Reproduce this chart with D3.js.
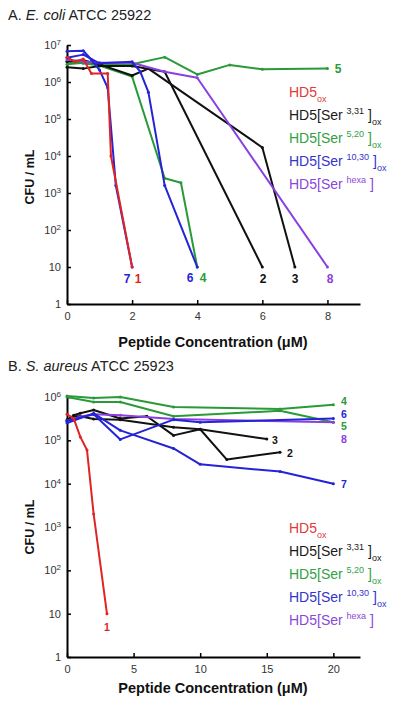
<!DOCTYPE html>
<html><head><meta charset="utf-8">
<script src="https://cdn.jsdelivr.net/npm/d3@7"></script>
<style>
body{margin:0;background:#fff}
svg{display:block}
text{font-family:"Liberation Sans",Arial,Helvetica,sans-serif}
</style>
</head><body>
<svg id="chart" width="400" height="702"></svg>
<script>
// ---------- Panel A: E. coli ATCC 25922 ----------
const xTicksA = [0, 2, 4, 6, 8];
const yTicksA = [1, 10, 1e2, 1e3, 1e4, 1e5, 1e6, 1e7];
const concA1 = [0, 0.25, 0.5, 0.75, 1.25, 1.35, 2];
const cfuA1  = [4.7e6, 3.5e6, 4.2e6, 1.7e6, 1.7e6, 1e4, 10];
const concA2 = [0, 0.5, 1, 2, 3, 6];
const cfuA2  = [2.5e6, 2.3e6, 2.7e6, 2.7e6, 1.9e6, 10];
const concA3 = [0, 0.5, 1, 2, 2.5, 6, 7];
const cfuA3  = [3.6e6, 3.9e6, 3e6, 1.5e6, 2.3e6, 1.7e4, 10];
const concA4 = [0, 0.5, 1, 2, 3, 3.5, 4];
const cfuA4  = [3.6e6, 3.2e6, 2.8e6, 1.4e6, 2.5e3, 1.9e3, 10];
const concA5 = [0, 0.5, 1, 2, 3, 4, 5, 6, 8];
const cfuA5  = [3e6, 3.3e6, 3e6, 3e6, 4.7e6, 1.6e6, 2.9e6, 2.2e6, 2.3e6];
const concA6 = [0, 0.5, 1, 2, 2.25, 2.5, 3, 4];
const cfuA6  = [4.5e6, 5.5e6, 3.2e6, 3.5e6, 1.9e6, 5.3e5, 1.6e3, 10];
const concA7 = [0, 0.5, 0.75, 1, 1.25, 1.5, 2];
const cfuA7  = [6.8e6, 7e6, 4e6, 2.1e6, 7e5, 1.6e3, 10];
const concA8 = [0, 0.5, 1, 2, 3, 4, 8];
const cfuA8  = [4e6, 3.6e6, 3.3e6, 3.3e6, 1.9e6, 1.3e6, 10];

// ---------- Panel B: S. aureus ATCC 25923 ----------
const xTicksB = [0, 5, 10, 15, 20];
const yTicksB = [1, 10, 1e2, 1e3, 1e4, 1e5, 1e6];
const concB1 = [0, 0.5, 1, 1.5, 2, 3];
const cfuB1  = [4e5, 3.2e5, 1.2e5, 6e4, 2e3, 10];
const concB2 = [0, 0.5, 1, 2, 4, 6, 8, 10, 12, 16];
const cfuB2  = [2.8e5, 3.8e5, 4.2e5, 5e5, 3.2e5, 3.6e5, 1.3e5, 1.8e5, 3.6e4, 5.3e4];
const concB3 = [0, 0.5, 1, 2, 4, 8, 10, 15];
const cfuB3  = [3e5, 3.6e5, 3.6e5, 3.1e5, 3e5, 2e5, 1.8e5, 1.07e5];
const concB4 = [0, 2, 4, 8, 16, 20];
const cfuB4  = [1.05e6, 9.5e5, 1e6, 5.9e5, 5.3e5, 6.6e5];
const concB5 = [0, 2, 4, 8, 16, 20];
const cfuB5  = [1e6, 7.7e5, 7.7e5, 3.6e5, 4.8e5, 2.6e5];
const concB6 = [0, 2, 4, 8, 10, 20];
const cfuB6  = [2.8e5, 4e5, 1.05e5, 3e5, 2.6e5, 3.2e5];
const concB7 = [0, 2, 4, 8, 10, 16, 20];
const cfuB7  = [2.5e5, 4.2e5, 1.7e5, 6.5e4, 2.8e4, 1.9e4, 1e4];
const concB8 = [0, 1, 2, 4, 8, 20];
const cfuB8  = [2.8e5, 3.5e5, 4e5, 3.8e5, 3.1e5, 2.6e5];

// legend
const legendBase = ["HD5", "HD5[Ser ", "HD5[Ser ", "HD5[Ser ", "HD5[Ser "];
const legendSup  = ["", "3,31", "5,20", "10,30", "hexa"];
const legendSub  = ["ox", "ox", "ox", "ox", ""];
const seriesColor = {1:"#e02424", 2:"#111111", 3:"#111111", 4:"#2a9a38", 5:"#2a9a38", 6:"#2424d6", 7:"#2424d6", 8:"#8a3fe0"};
const legendColor = ["#e03a3a", "#1a1a1a", "#33a044", "#3434c8", "#8a48d8"];

const svg = d3.select("#chart");

function panel(cfg) {
  const g = svg.append("g");
  const x = d3.scaleLinear().domain(cfg.xDomain).range([67, 360]);
  const y = d3.scaleLog().domain(cfg.yDomain).range(cfg.yRange);

  // title
  const t = g.append("text").attr("x", 8).attr("y", cfg.titleY).attr("font-size", 14.5).attr("fill", "#222");
  t.append("tspan").text(cfg.title[0]);
  t.append("tspan").attr("font-style", "italic").text(cfg.title[1]);
  t.append("tspan").text(cfg.title[2]);

  // axes
  const xa = g.append("g").attr("transform", `translate(0,${cfg.yRange[0]})`)
    .call(d3.axisBottom(x).tickValues(cfg.xTicks).tickSize(-4).tickSizeOuter(0).tickPadding(8).tickFormat(d3.format("d")));
  xa.select(".domain").attr("stroke-width", 2).attr("stroke", "#000");
  xa.selectAll(".tick line").attr("stroke-width", 1.5);
  xa.selectAll(".tick text").attr("font-size", 11).attr("fill", "#333").attr("font-family", "Liberation Sans, Arial, sans-serif");

  const ya = g.append("g").attr("transform", "translate(67,0)")
    .call(d3.axisLeft(y).tickValues(cfg.yTicks).tickSize(-4).tickSizeOuter(0).tickPadding(6).tickFormat(() => ""));
  ya.select(".domain").attr("stroke-width", 2).attr("stroke", "#000");
  ya.selectAll(".tick line").attr("stroke-width", 1.5);
  ya.selectAll(".tick text").attr("font-size", 11).attr("fill", "#333").attr("font-family", "Liberation Sans, Arial, sans-serif")
    .each(function(d) {
      const s = d3.select(this);
      const e = Math.round(Math.log10(d));
      if (e === 0) { s.text("1"); return; }
      if (e === 1) { s.text("10"); return; }
      s.append("tspan").text("10");
      s.append("tspan").attr("font-size", 8).attr("dy", "-0.5em").text(e);
    });

  // axis titles
  g.append("text").attr("x", 213).attr("y", cfg.xTitleY).attr("text-anchor", "middle")
    .attr("font-size", 14.5).attr("font-weight", "bold").attr("fill", "#111")
    .text("Peptide Concentration (\u03BCM)");
  g.append("text").attr("transform", `translate(34,${cfg.yTitleY}) rotate(-90)`).attr("text-anchor", "middle")
    .attr("font-size", 12.5).attr("font-weight", "bold").attr("fill", "#111")
    .text("CFU / mL");

  // series
  const line = d3.line().x(d => x(d[0])).y(d => y(d[1]));
  cfg.series.forEach(s => {
    const pts = s.conc.map((c, i) => [c, s.cfu[i]]);
    g.append("path").datum(pts).attr("d", line).attr("fill", "none")
      .attr("stroke", seriesColor[s.id]).attr("stroke-width", 2).attr("stroke-linejoin", "round");
    g.selectAll(null).data(pts).enter().append("circle")
      .attr("cx", d => x(d[0])).attr("cy", d => y(d[1])).attr("r", 1.5).attr("fill", seriesColor[s.id]);
  });

  // number labels
  cfg.labels.forEach(l => {
    g.append("text").attr("x", l[1]).attr("y", l[2]).attr("text-anchor", "middle")
      .attr("font-size", cfg.labelSize).attr("font-weight", "bold").attr("fill", seriesColor[l[0]]).text(l[0]);
  });

  // legend
  legendBase.forEach((b, i) => {
    const ty = cfg.legendY + i * 23;
    const tx = g.append("text").attr("x", 289).attr("y", ty).attr("font-size", 14).attr("fill", legendColor[i])
      .attr("font-family", "Liberation Sans, Arial, sans-serif");
    tx.append("tspan").text(b);
    if (legendSup[i]) {
      tx.append("tspan").attr("font-size", 9).attr("dy", -6).text(legendSup[i]);
      tx.append("tspan").attr("dy", 6).text(" ]");
    }
    if (legendSub[i]) {
      tx.append("tspan").attr("font-size", 9).attr("dy", 5).text(legendSub[i]);
    }
  });
}

panel({
  title: ["A. ", "E. coli", " ATCC 25922"], titleY: 20,
  xDomain: [0, 9], yDomain: [1, 1e7], yRange: [304, 45],
  xTicks: xTicksA, yTicks: yTicksA, xTitleY: 347, yTitleY: 177, labelSize: 12,
  series: [
    {id:5, conc:concA5, cfu:cfuA5}, {id:4, conc:concA4, cfu:cfuA4},
    {id:2, conc:concA2, cfu:cfuA2}, {id:3, conc:concA3, cfu:cfuA3},
    {id:8, conc:concA8, cfu:cfuA8}, {id:6, conc:concA6, cfu:cfuA6},
    {id:7, conc:concA7, cfu:cfuA7}, {id:1, conc:concA1, cfu:cfuA1}
  ],
  labels: [[7,127,283],[1,138,283],[6,190,282],[4,203,282],[2,263,283],[3,295,283],[8,330,283],[5,338,73]],
  legendY: 97
});

panel({
  title: ["B. ", "S. aureus", " ATCC 25923"], titleY: 371,
  xDomain: [0, 22], yDomain: [1, 1e6], yRange: [657, 397],
  xTicks: xTicksB, yTicks: yTicksB, xTitleY: 693, yTitleY: 527, labelSize: 10.5,
  series: [
    {id:5, conc:concB5, cfu:cfuB5}, {id:4, conc:concB4, cfu:cfuB4},
    {id:2, conc:concB2, cfu:cfuB2}, {id:3, conc:concB3, cfu:cfuB3},
    {id:8, conc:concB8, cfu:cfuB8}, {id:6, conc:concB6, cfu:cfuB6},
    {id:7, conc:concB7, cfu:cfuB7}, {id:1, conc:concB1, cfu:cfuB1}
  ],
  labels: [[4,344,405],[6,344,417.5],[5,344,430],[8,344,442.5],[7,344,488],[3,275,444],[2,290,457],[1,107,631]],
  legendY: 533
});
</script>
</body></html>
